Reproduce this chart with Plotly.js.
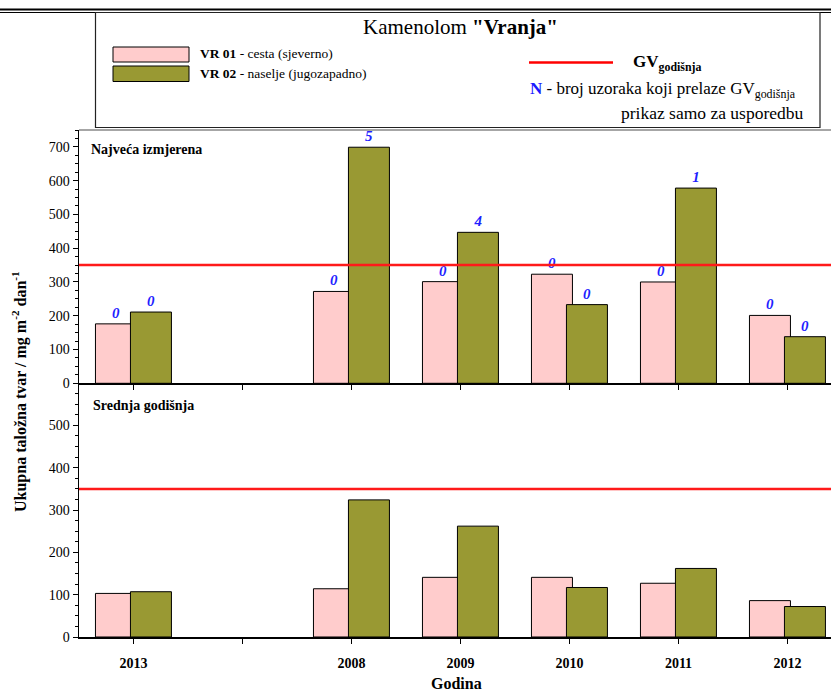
<!DOCTYPE html>
<html>
<head>
<meta charset="utf-8">
<script src="https://cdn.plot.ly/plotly-3.0.1.min.js"></script>
<style>html,body{margin:0;padding:0;background:#fff;overflow:hidden}</style>
</head>
<body>
<div id="chart" style="width:831px;height:693px"></div>
<script>
// ---- data ----
const categories = ['2013', ' ', '2008', '2009', '2010', '2011', '2012'];
const maxVR01 = [176, null, 272, 301, 323, 300, 201];
const maxVR02 = [211, null, 699, 447, 233, 578, 138];
const meanVR01 = [103, null, 114, 141, 141, 127, 86];
const meanVR02 = [107, null, 324, 262, 117, 162, 72];
const exceedVR01 = ['0', '', '0', '0', '0', '0', '0'];
const exceedVR02 = ['0', '', '5', '4', '0', '1', '0'];
const gvLimit = 350;
const seriesCodes = ['VR 01', 'VR 02'];
const seriesDesc = ['cesta (sjeverno)', 'naselje (jugozapadno)'];
const panelLabels = ['Najveća izmjerena', 'Srednja godišnja'];
const chartTitle = 'Kamenolom <b>"Vranja"</b>';
const yTitle = '<b>Ukupna taložna tvar / mg m<sup>-2</sup> dan<sup>-1</sup></b>';
const xTitle = '<b>Godina</b>';

// ---- styling ----
const SERIF = 'Liberation Serif';
const PINK = '#FFCCCC', OLIVE = '#999933';
const W = 831, H = 693, L = 79, T = 130, B = 56, R = 0;
const PW = W - L - R, PH = H - T - B;
const px = x => (x - L) / PW;
const py = y => (H - B - y) / PH;
const split = py(383.3);

const barW = 0.376, offA = -0.349, offB = -0.028;
const fmt = a => a.map(s => s === '' ? '' : '<b><i>' + s + '</i></b>');
const lblFont = {family: SERIF, size: 15, color: '#1f1fff'};

function bar(y, color, xa, ya, off, txt) {
  const t = {
    type: 'bar', x: categories, y: y, xaxis: xa, yaxis: ya,
    width: barW, offset: off,
    marker: {color: color, line: {color: '#000', width: 1}},
    hoverinfo: 'skip', showlegend: false, cliponaxis: false
  };
  if (txt) {
    t.text = fmt(txt); t.textposition = 'outside'; t.textfont = lblFont;
    t.constraintext = 'none';
  }
  return t;
}

const data = [
  bar(maxVR01, PINK, 'x2', 'y2', offA, exceedVR01),
  bar(maxVR02, OLIVE, 'x2', 'y2', offB, exceedVR02),
  bar(meanVR01, PINK, 'x', 'y', offA, null),
  bar(meanVR02, OLIVE, 'x', 'y', offB, null)
];

const yBase = {
  showline: true, linecolor: '#000', linewidth: 1.5, mirror: false,
  ticks: 'outside', ticklen: 5, tickcolor: '#000', tickwidth: 1,
  minor: {dtick: 25, ticks: 'outside', ticklen: 3, tickcolor: '#000', tickwidth: 1},
  showgrid: false, zeroline: false, dtick: 100,
  tickfont: {family: SERIF, size: 14, color: '#000'}, fixedrange: true
};
const xBase = {
  type: 'category', range: [-0.5, (831 - 133.5) / 109],
  showline: true, linecolor: '#000', linewidth: 1.5,
  ticks: 'outside', ticklen: 5, tickcolor: '#000', tickwidth: 1.2,
  showgrid: false, zeroline: false, fixedrange: true
};

const shapes = [
  {type: 'line', xref: 'paper', yref: 'paper', x0: px(0), x1: px(831), y0: py(9.5), y1: py(9.5), line: {color: '#000', width: 2}},
  {type: 'line', xref: 'paper', yref: 'paper', x0: px(0), x1: px(831), y0: py(12.5), y1: py(12.5), line: {color: '#000', width: 1}},
  {type: 'rect', xref: 'paper', yref: 'paper', x0: px(95.5), x1: px(820), y0: py(12.5), y1: py(127.5), line: {color: '#222', width: 1.2}},
  {type: 'rect', xref: 'paper', yref: 'paper', x0: px(113), x1: px(189), y0: py(47), y1: py(62), fillcolor: PINK, line: {color: '#000', width: 1}},
  {type: 'rect', xref: 'paper', yref: 'paper', x0: px(113), x1: px(189), y0: py(66), y1: py(81.5), fillcolor: OLIVE, line: {color: '#000', width: 1}},
  {type: 'line', xref: 'paper', yref: 'paper', x0: px(529), x1: px(613), y0: py(62.5), y1: py(62.5), line: {color: '#ff0000', width: 2.5}},
  {type: 'line', xref: 'paper', yref: 'paper', x0: 0, x1: 1, y0: 1, y1: 1, line: {color: '#888', width: 1.5}},
  {type: 'line', xref: 'paper', yref: 'y2', x0: 0, x1: 1, y0: gvLimit, y1: gvLimit, line: {color: '#ff1a1a', width: 2.5}},
  {type: 'line', xref: 'paper', yref: 'y', x0: 0, x1: 1, y0: gvLimit, y1: gvLimit, line: {color: '#ff1a1a', width: 2.5}}
];

const ann = (x, y, text, size, opts) => Object.assign({
  xref: 'paper', yref: 'paper', x: px(x), y: py(y), text: text, showarrow: false,
  font: {family: SERIF, size: size, color: '#000'}, xanchor: 'left', yanchor: 'middle'
}, opts || {});

const annotations = [
  ann(460, 27, chartTitle, 21, {xanchor: 'center'}),
  ann(198, 54, '<b>' + seriesCodes[0] + '</b> - ' + seriesDesc[0], 13.5),
  ann(198, 73.5, '<b>' + seriesCodes[1] + '</b> - ' + seriesDesc[1], 13.5),
  ann(631, 63, '<b>GV<sub>godišnja</sub></b>', 17),
  ann(528, 90.5, '<span style="color:#1a1aff"><b>N</b></span> - broj uzoraka koji prelaze GV<sub>godišnja</sub>', 17),
  ann(805, 113, 'prikaz samo za usporedbu', 17.5, {xanchor: 'right'}),
  ann(89, 149, '<b>' + panelLabels[0] + '</b>', 14),
  ann(91, 405, '<b>' + panelLabels[1] + '</b>', 14),
  ann(19, 392, yTitle, 16, {xanchor: 'center', textangle: -90}),
  ann(456, 683, xTitle, 16, {xanchor: 'center'})
];

const layout = {
  width: W, height: H,
  margin: {l: L, r: R, t: T, b: B, pad: 0},
  font: {family: SERIF},
  paper_bgcolor: '#fff', plot_bgcolor: '#fff',
  barmode: 'overlay', showlegend: false,
  xaxis: Object.assign({}, xBase, {anchor: 'y', ticklabelstandoff: 8,
    tickfont: {family: SERIF, size: 14, color: '#000', weight: 'bold'}}),
  xaxis2: Object.assign({}, xBase, {anchor: 'y2', matches: 'x', showticklabels: false}),
  yaxis: Object.assign({}, yBase, {domain: [0, split], range: [0, 599.5]}),
  yaxis2: Object.assign({}, yBase, {domain: [split, 1], range: [0, 750]}),
  shapes: shapes,
  annotations: annotations
};

Plotly.newPlot('chart', data, layout, {displayModeBar: false, staticPlot: true});
</script>
</body>
</html>
